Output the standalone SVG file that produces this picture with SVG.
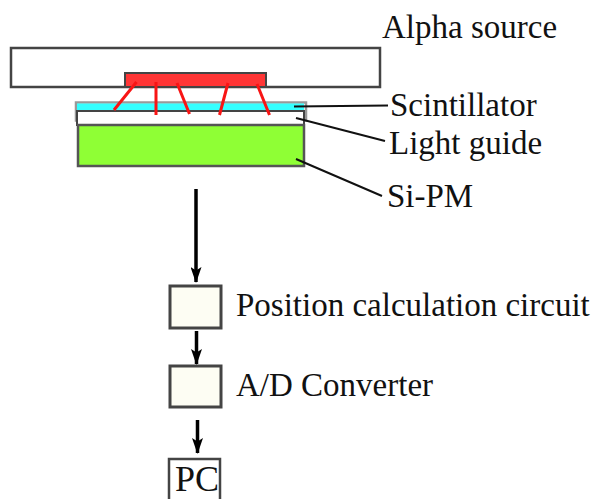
<svg xmlns="http://www.w3.org/2000/svg" width="592" height="499" viewBox="0 0 592 499">
<defs>
<marker id="arr" markerUnits="userSpaceOnUse" markerWidth="16" markerHeight="11" refX="15" refY="5.500" orient="auto" viewBox="0 0 16 11"><path d="M0 0L3.500 5.500L0 11L16 5.500Z" fill="#000"/></marker>
</defs>
<style>
text{font-family:"Liberation Serif","Times New Roman",serif;font-size:33px;fill:#111}
.b{stroke:#444;stroke-width:3}
.r{stroke:#f81515;stroke-width:3;fill:none}
.l{stroke:#111;stroke-width:2;fill:none}
.a{stroke:#000;stroke-width:3.500;fill:none}
</style>
<rect width="592" height="499" fill="#fff"/>
<g id="alpha-source"><rect x="11" y="48" width="369" height="39" fill="#fff" stroke="#444" stroke-width="2.500"/><text x="382" y="38">Alpha source</text></g>
<g id="source-red"><rect x="125" y="73" width="141" height="14" fill="#ff3535" stroke="#444" stroke-width="2"/></g>
<g id="scintillator"><rect x="76" y="102.500" width="230" height="18" fill="none" stroke="#999" stroke-width="2.500"/><rect x="77" y="103.500" width="227" height="7.500" fill="#35ffff"/><text x="390" y="116">Scintillator</text></g>
<g id="light-guide"><rect x="77" y="111" width="227" height="14" fill="#fff" stroke="#444" stroke-width="2"/><text x="389" y="154">Light guide</text></g>
<g id="si-pm"><rect x="78" y="125" width="226" height="41" fill="#8fff35" stroke="#555" stroke-width="2.500"/><text x="387" y="207">Si-PM</text></g>
<g id="position-circuit"><rect class="b" x="170" y="286" width="51" height="42" fill="#fdfdf3"/><text x="236" y="316">Position calculation circuit</text></g>
<g id="ad-converter"><rect class="b" x="170" y="366" width="51" height="41" fill="#fdfdf3"/><text x="236" y="396">A/D Converter</text></g>
<g id="pc"><rect x="169" y="459" width="51" height="42" fill="#fff" stroke="#444" stroke-width="2.500"/><text x="175" y="491" style="font-size:36px">PC</text></g>
<g id="connectors">
<path class="r" d="M136.500 82L114 110M156 82V115M177 83L189.500 114M228 83L219.500 115M257 84L269.500 115"/>
<path class="l" d="M294 106.500L388 105.500M296 118L385 141M296 159L382 196"/>
<path class="a" d="M196 189V282" marker-end="url(#arr)"/>
<path class="a" d="M196.500 331V364" marker-end="url(#arr)"/>
<path class="a" d="M197.500 420V453" marker-end="url(#arr)"/>
</g>
</svg>
